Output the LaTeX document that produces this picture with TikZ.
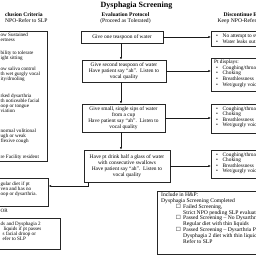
\documentclass[tikz,border=0pt]{standalone}
\usepackage{fontspec}
\setmainfont{Liberation Serif}
\newfontfamily\symf{DejaVu Sans}
\usetikzlibrary{arrows.meta,shadows}
\begin{document}
\begin{tikzpicture}[x=1pt,y=-1pt,
  bx/.style={draw=black!85, line width=0.55pt, fill=white, inner sep=0pt,
    drop shadow={shadow xshift=0.8pt, shadow yshift=-0.8pt, fill=black!75, opacity=1}},
  cbx/.style={bx, align=center, font=\fontsize{5.4}{5.8}\selectfont},
  rbx/.style={bx, anchor=north west, minimum width=70pt},
  lbx/.style={bx, anchor=north west},
  tx/.style={font=\fontsize{5.1}{5.8}\selectfont, inner sep=0pt, text height=3.6pt, text depth=1.1pt, anchor=west},
  rtx/.style={tx, font=\fontsize{5.3}{5.8}\selectfont},
  btx/.style={tx, font=\fontsize{5.6}{5.9}\selectfont},
  hd/.style={font=\bfseries\fontsize{5.6}{6}\selectfont, inner sep=0pt},
  hs/.style={font=\fontsize{5.6}{6}\selectfont, inner sep=0pt},
  arr/.style={draw=black!90, line width=0.55pt, -{Latex[length=2.6pt,width=2.2pt]}},
  bul/.style={rtx, anchor=center},
  chk/.style={btx, anchor=center, font=\symf\fontsize{5.6}{5.9}\selectfont}
]
\useasboundingbox (0,0) rectangle (256,256);
\clip (0,0) rectangle (256,256);

% title and headers
\node[font=\bfseries\fontsize{8}{9}\selectfont, inner sep=0pt, anchor=base] (title) at (136.5,7.5) {Dysphagia Screening};
\node[hd, anchor=base west] (hl1) at (5,16.5) {clusion Criteria};
\node[hs, anchor=base west] (hl2) at (5,22.5) {NPO-Refer to SLP};
\node[hd, anchor=base] (hc1) at (125.5,16.5) {Evaluation Protocol};
\node[hs, anchor=base] (hc2) at (125.5,22.5) {(Proceed as Tolerated)};
\node[hd, anchor=base west] (hr1) at (223.5,16.5) {Discontinue Evaluation};
\node[hs, anchor=base west] (hr2) at (217.5,22.5) {Keep NPO-Refer to SLP};

% left column
\node[lbx, minimum width=52pt, minimum height=130pt] (l1) at (-5,31) {};
\node[tx] (la1) at (0.5,35) {ow Sustained};
\node[tx] (la2) at (0.5,40) {ertness};
\node[tx] (la3) at (0.5,53.5) {bility to tolerate};
\node[tx] (la4) at (0.5,58.5) {ight sitting};
\node[tx] (la5) at (0.5,69) {ow saliva control};
\node[tx] (la6) at (0.5,74) {th wet gurgly vocal};
\node[tx] (la7) at (0.5,79) {ity/drooling};
\node[tx] (la8) at (0.5,96) {rked dysarthria};
\node[tx] (la9) at (0.5,101) {th noticeable facial};
\node[tx] (la10) at (0.5,106) {oop or tongue};
\node[tx] (la11) at (0.5,111) {viation};
\node[tx] (la12) at (0.5,131) {normal volitional};
\node[tx] (la13) at (0.5,136) {ugh or weak};
\node[tx] (la14) at (0.5,141) {flexive cough};
\node[tx] (la15) at (0.5,157) {re Facility resident};

\node[lbx, minimum width=53pt, minimum height=28pt] (l2) at (-5,178) {};
\node[tx] (lb1) at (0.5,184) {gular diet if pt};
\node[tx] (lb2) at (0.5,189) {ven and has no};
\node[tx] (lb3) at (0.5,194) {oop or dysarthria.};

\node[tx] (lor) at (0.5,211) {OR};

\node[lbx, minimum width=65pt, minimum height=31pt] (l3) at (-5,218) {};
\node[tx] (lc1) at (0.5,224) {ds and Dysphagia 2};
\node[tx] (lc2) at (3.3,229) {liquids if pt passes};
\node[tx] (lc3) at (2.5,234) {s facial droop or};
\node[tx] (lc4) at (2.5,239) {efer to SLP};

% centre column
\node[cbx, minimum width=82pt, minimum height=12pt] (c1) at (122,37) {Give one teaspoon of water};
\node[cbx, minimum width=84pt, minimum height=22pt] (c2) at (124,71) {Give second teaspoon of water\\Have patient say “ah”.\ \ Listen to\\vocal quality};
\node[cbx, minimum width=83pt, minimum height=28pt] (c3) at (123.5,118) {Give small, single sips of water\\from a cup\\Have patient say “ah”.\ \ Listen to\\vocal quality};
\node[cbx, minimum width=86pt, minimum height=32pt] (c4) at (127,166) {Have pt drink half a glass of water\\with consecutive swallows\\Have patient say “ah”.\ \ Listen to\\vocal quality};

% right column
\node[rbx, minimum height=15pt] (r1) at (211,31) {};
\node[bul] (r1b1) at (217,36) {\textbullet};
\node[rtx] (r1t1) at (222.5,36) {No attempt to swallow};
\node[bul] (r1b2) at (217,42) {\textbullet};
\node[rtx] (r1t2) at (222.5,42) {Water leaks out of mouth};

\node[rbx, minimum height=33pt] (r2) at (211,58) {};
\node[rtx] (r2h) at (214,62.5) {Pt displays:};
\node[bul] (r2b1) at (217,68) {\textbullet};
\node[rtx] (r2t1) at (222.5,68) {Coughing/throat clearing};
\node[bul] (r2b2) at (217,73.5) {\textbullet};
\node[rtx] (r2t2) at (222.5,73.5) {Choking};
\node[bul] (r2b3) at (217,79) {\textbullet};
\node[rtx] (r2t3) at (222.5,79) {Breathlessness};
\node[bul] (r2b4) at (217,85) {\textbullet};
\node[rtx] (r2t4) at (222.5,85) {Wet/gurgly voice};

\node[rbx, minimum height=29pt] (r3) at (211,104) {};
\node[bul] (r3b1) at (217,109) {\textbullet};
\node[rtx] (r3t1) at (222.5,109) {Coughing/throat clearing};
\node[bul] (r3b2) at (217,114.5) {\textbullet};
\node[rtx] (r3t2) at (222.5,114.5) {Choking};
\node[bul] (r3b3) at (217,120) {\textbullet};
\node[rtx] (r3t3) at (222.5,120) {Breathlessness};
\node[bul] (r3b4) at (217,125.5) {\textbullet};
\node[rtx] (r3t4) at (222.5,125.5) {Wet/gurgly voice};

\node[rbx, minimum height=28pt] (r4) at (211,150) {};
\node[bul] (r4b1) at (217,155) {\textbullet};
\node[rtx] (r4t1) at (222.5,155) {Coughing/throat clearing};
\node[bul] (r4b2) at (217,160.5) {\textbullet};
\node[rtx] (r4t2) at (222.5,160.5) {Choking};
\node[bul] (r4b3) at (217,166) {\textbullet};
\node[rtx] (r4t3) at (222.5,166) {Breathlessness};
\node[bul] (r4b4) at (217,171.5) {\textbullet};
\node[rtx] (r4t4) at (222.5,171.5) {Wet/gurgly voice};

% bottom box
\node[rbx, minimum width=110pt, minimum height=63pt] (bb) at (157,191) {};
\node[btx] (b1) at (161,195) {Include in H\&P:};
\node[btx] (b2) at (161,201) {Dysphagia Screening Completed};
\node[chk] (b3c) at (178.5,207) {☐};
\node[btx] (b3) at (183,207) {Failed Screening,};
\node[btx] (b4) at (183,212.8) {Strict NPO pending SLP evaluation};
\node[chk] (b5c) at (178.5,218.7) {☐};
\node[btx] (b5) at (183,218.7) {Passed Screening – No Dysarthria};
\node[btx] (b6) at (183,224.6) {Regular diet with thin liquids};
\node[chk] (b7c) at (178.5,230.5) {☐};
\node[btx] (b7) at (183,230.5) {Passed Screening – Dysarthria Present};
\node[btx] (b8) at (183,236.4) {Dysphagia 2 diet with thin liquids};
\node[btx] (b9) at (183,242.3) {Refer to SLP};

% connectors
\coordinate (vx) at (121,0);
\coordinate (ja) at (88,186);
\draw[arr] (c1.south -| vx) -- (c2.north -| vx);
\draw[arr] (c2.south -| vx) -- (c3.north -| vx);
\draw[arr] (c3.south -| vx) -- (c4.north -| vx);
\draw[arr] (c1.east) -- (c1.east -| r1.west);
\draw[arr] (c2.east) -- (c2.east -| r2.west);
\draw[arr] (c3.east) -- (c3.east -| r3.west);
\draw[arr] (c4.east) -- (c4.east -| r4.west);
\draw[arr] (c4.south -| ja) |- (ja -| l2.east);
\end{tikzpicture}
\end{document}
